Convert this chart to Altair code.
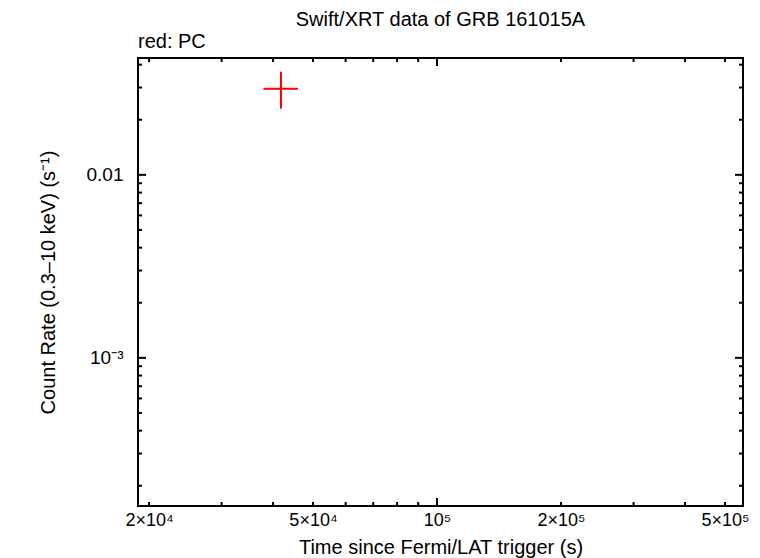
import altair as alt
import pandas as pd

# ---- data ----
t_mid = [4.18e4]
t_lo = [3.79e4]
t_hi = [4.60e4]
rate = [0.0295]
rate_lo = [0.0230]
rate_hi = [0.0366]

x_domain = [1.88e4, 5.53e5]
y_domain = [1.55e-4, 0.0435]

x_label_values = [2e4, 5e4, 1e5, 2e5, 5e5]
x_label_texts = ["2×10⁴", "5×10⁴", "10⁵", "2×10⁵", "5×10⁵"]
y_label_values = [1e-3, 1e-2]
y_label_texts = ["10⁻³", "0.01"]

x_minor = [2e4, 3e4, 4e4, 5e4, 6e4, 7e4, 8e4, 9e4, 2e5, 3e5, 4e5, 5e5]
x_major = [1e5]
y_minor = [2e-4, 3e-4, 4e-4, 5e-4, 6e-4, 7e-4, 8e-4, 9e-4,
           2e-3, 3e-3, 4e-3, 5e-3, 6e-3, 7e-3, 8e-3, 9e-3,
           0.02, 0.03, 0.04]
y_major = [1e-3, 1e-2]

W, H = 605, 448
FONT = "Liberation Sans"

def label_expr(values, texts):
    parts = []
    for v, t in zip(values, texts):
        parts.append(f"abs(datum.value - {v}) < {v} * 1e-6 ? '{t}'")
    return " : ".join(parts) + " : ''"

xs = alt.Scale(type="log", domain=x_domain, nice=False, zero=False)
ys = alt.Scale(type="log", domain=y_domain, nice=False, zero=False)

pts = pd.DataFrame({"t": t_mid, "tlo": t_lo, "thi": t_hi,
                    "r": rate, "rlo": rate_lo, "rhi": rate_hi})

base = alt.Chart(pts)

hbar = base.mark_rule(color="#ff0000", strokeWidth=2).encode(
    x=alt.X("tlo:Q", scale=xs, axis=alt.Axis(
        values=x_label_values, labelExpr=label_expr(x_label_values, x_label_texts),
        ticks=False, domain=False, grid=False, labelFont=FONT, labelFontSize=18,
        labelColor="black", labelPadding=5, labelFlush=False,
        title="Time since Fermi/LAT trigger (s)", titleFont=FONT,
        titleFontSize=20, titleFontWeight="normal", titleColor="black",
        titlePadding=8)),
    x2="thi:Q",
    y=alt.Y("r:Q", scale=ys, axis=alt.Axis(
        values=y_label_values, labelExpr=label_expr(y_label_values, y_label_texts),
        ticks=False, domain=False, grid=False, labelFont=FONT, labelFontSize=19,
        labelColor="black", labelPadding=15, labelFlush=False,
        title="Count Rate (0.3–10 keV) (s⁻¹)", titleFont=FONT,
        titleFontSize=20, titleFontWeight="normal", titleColor="black",
        titlePadding=28)),
)
vbar = base.mark_rule(color="#ff0000", strokeWidth=2).encode(
    x=alt.X("t:Q", scale=xs), y=alt.Y("rlo:Q", scale=ys), y2="rhi:Q")

def xticks(vals, length):
    df = pd.DataFrame({"v": vals})
    c = alt.Chart(df)
    bot = c.mark_rule(color="black", strokeWidth=2).encode(
        x=alt.X("v:Q", scale=xs), y=alt.value(H), y2=alt.value(H - length))
    top = c.mark_rule(color="black", strokeWidth=2).encode(
        x=alt.X("v:Q", scale=xs), y=alt.value(0), y2=alt.value(length))
    return [bot, top]

def yticks(vals, length):
    df = pd.DataFrame({"v": vals})
    c = alt.Chart(df)
    left = c.mark_rule(color="black", strokeWidth=2).encode(
        y=alt.Y("v:Q", scale=ys), x=alt.value(0), x2=alt.value(length))
    right = c.mark_rule(color="black", strokeWidth=2).encode(
        y=alt.Y("v:Q", scale=ys), x=alt.value(W), x2=alt.value(W - length))
    return [left, right]

tick_layers = xticks(x_minor, 4) + xticks(x_major, 8) + yticks(y_minor, 4) + yticks(y_major, 8)

title_txt = alt.Chart(pd.DataFrame({"s": ["Swift/XRT data of GRB 161015A"]})).mark_text(
    font=FONT, fontSize=20, color="black", align="center", baseline="alphabetic").encode(
    text="s:N", x=alt.value(W / 2), y=alt.value(-32))
sub_txt = alt.Chart(pd.DataFrame({"s": ["red: PC"]})).mark_text(
    font=FONT, fontSize=20, color="black", align="left", baseline="alphabetic").encode(
    text="s:N", x=alt.value(0), y=alt.value(-10))

chart = alt.layer(hbar, vbar, *tick_layers, title_txt, sub_txt).properties(
    width=W, height=H,
    background="white",
    autosize=alt.AutoSizeParams(type="none"),
    padding={"left": 130, "top": 50, "right": 9, "bottom": 52},
).configure_view(stroke="black", strokeWidth=2)

chart.save("out.html", embed_options={"renderer": "svg", "actions": False})
